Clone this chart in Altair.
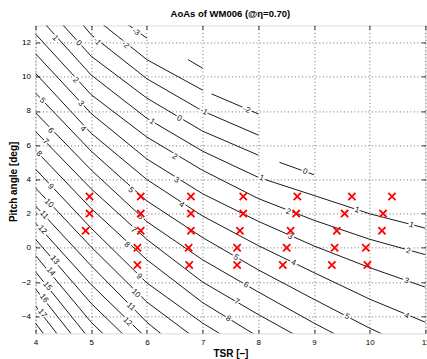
import altair as alt
import pandas as pd

# ---- contour lines: pitch [deg] of each AoA level at the TSR grid nodes ----
TSR_NODES = [4, 5, 6, 7, 8, 9, 10, 11]
LEVELS = [-3, -2, -1, 0, 1, 2, 3, 4, 5, 6, 7, 8, 9, 10, 11, 12, 13, 14, 15, 16, 17, 18]
PITCH_M3 = [None, 14.6, 12.25, None, None, None, None, None]
PITCH_M2 = [None, 13.6, 11.0, 9.22, None, None, None, None]
PITCH_M1 = [16.4, 12.45, 9.88, 8.0, 6.59, None, None, None]
PITCH_0 = [14.8, 11.2, 8.75, 6.82, 5.42, None, None, None]
PITCH_1 = [13.7, 10.1, 7.57, 5.65, 4.12, 3.06, 1.99, 1.15]
PITCH_2 = [12.5, 8.95, 6.47, 4.53, 2.88, 1.61, 0.5, -0.4]
PITCH_3 = [11.35, 7.85, 5.19, 3.16, 1.55, 0.11, -1.16, -2.3]
PITCH_4 = [10.2, 6.7, 3.99, 1.86, 0.13, -1.45, -3.0, -4.35]
PITCH_5 = [9.05, 5.65, 2.74, 0.6, -1.29, -3.01, -4.7, -6.2]
PITCH_6 = [7.9, 4.55, 1.53, -0.7, -2.58, -4.4, -6.1, None]
PITCH_7 = [6.8, 3.45, 0.49, -2.0, -3.9, -5.7, None, None]
PITCH_8 = [5.7, 2.3, -0.7, -3.2, -5.2, None, None, None]
PITCH_9 = [4.6, 1.15, -2.05, -4.4, -6.4, None, None, None]
PITCH_10 = [3.5, 0.05, -3.17, -5.6, None, None, None, None]
PITCH_11 = [2.45, -1.05, -4.35, -7.0, None, None, None, None]
PITCH_12 = [1.45, -2.15, -5.3, None, None, None, None, None]
PITCH_13 = [0.5, -3.25, -6.4, None, None, None, None, None]
PITCH_14 = [-0.45, -4.35, -7.5, None, None, None, None, None]
PITCH_15 = [-1.4, -5.45, None, None, None, None, None, None]
PITCH_16 = [-2.4, -6.5, None, None, None, None, None, None]
PITCH_17 = [-3.4, -7.6, None, None, None, None, None, None]
PITCH_18 = [-4.4, -8.7, None, None, None, None, None, None]
ALL_PITCH = [PITCH_M3, PITCH_M2, PITCH_M1, PITCH_0, PITCH_1, PITCH_2, PITCH_3,
             PITCH_4, PITCH_5, PITCH_6, PITCH_7, PITCH_8, PITCH_9, PITCH_10,
             PITCH_11, PITCH_12, PITCH_13, PITCH_14, PITCH_15, PITCH_16,
             PITCH_17, PITCH_18]

# isolated pieces of contours next to the blank (no data) region
PIECE_LEVEL = [-3, -2, 0]
PIECE_TSR = [[6.74, 7.0], [7.16, 8.0], [8.38, 9.0]]
PIECE_PITCH = [[11.0, 10.5], [9.0, 7.83], [5.0, 4.27]]

# ---- inline contour labels ----
LABEL_TEXT = ["1", "0", "-1", "-2", "-3", "2", "3", "4", "5", "6", "7", "8", "9",
              "10", "11", "12", "13", "14", "15", "16", "17",
              "1", "0", "-1", "-2", "2", "3", "4", "5", "6", "7", "8", "9", "10",
              "11", "12", "1", "0", "2", "3", "4", "5", "6", "7", "8",
              "1", "1", "2", "3", "4", "5"]
LABEL_TSR = [4.35, 4.77, 5.10, 5.61, 5.80, 4.72, 4.81, 4.85, 4.12, 4.27, 4.18,
             4.06, 4.27, 4.24, 4.15, 4.12, 4.34, 4.27, 4.21, 4.15, 4.12,
             6.09, 6.58, 7.02, 7.79, 6.50, 6.53, 6.62, 5.71, 5.88, 5.76, 5.64,
             5.86, 5.80, 5.71, 5.65, 8.06, 8.84, 8.54, 8.57, 8.63, 7.60, 7.78,
             7.61, 7.46, 9.77, 10.75, 10.69, 10.66, 10.66, 9.59]
LABEL_PITCH = [12.24, 11.95, 12.05, 11.85, 12.6, 9.8, 8.42, 6.95, 8.6, 6.84,
               6.2, 5.48, 3.57, 2.6, 1.92, 1.04, -0.72, -1.4, -2.24, -2.96,
               -3.84, 7.37, 7.55, 7.95, 8.05, 5.32, 3.95, 2.5, 3.37, 1.8, 1.03,
               0.16, -1.68, -2.67, -3.45, -4.33, 4.08, 4.44, 2.1, 0.64, -0.88,
               -0.57, -2.18, -3.16, -4.15, 2.2, 1.33, -0.19, -1.95, -3.98, -4.03]
LABEL_ANGLE = [48, 48, 50, 40, 36, 47, 47, 47, 46, 46, 46, 46, 47, 47, 47, 48,
               49, 50, 51, 52, 52, 34, 31, 26, 23, 31, 32, 33, 42, 42, 42, 42,
               44, 44, 44, 44, 20, 19, 21, 24, 26, 30, 30, 30, 31, 17, 15, 15,
               19, 22, 28]

# ---- operating points (red crosses) ----
CROSS_TSR = [4.97, 4.97, 4.90, 5.89, 5.89, 5.89, 5.83, 5.83,
             6.79, 6.79, 6.79, 6.75, 6.76, 7.73, 7.73, 7.67, 7.62, 7.62,
             8.70, 8.68, 8.58, 8.51, 8.44, 9.68, 9.55, 9.41, 9.37, 9.32,
             10.40, 10.24, 10.22, 9.93, 9.96]
CROSS_PITCH = [3, 2, 1, 3, 2, 1, 0, -1,
               3, 2, 1, 0, -1, 3, 2, 1, 0, -1,
               3, 2, 1, 0, -1, 3, 2, 1, 0, -1,
               3, 2, 1, 0, -1]

X_TICKS = [4, 5, 6, 7, 8, 9, 10, 11]
Y_TICKS = [-4, -2, 0, 2, 4, 6, 8, 10, 12]

# ---- build tables ----
rows = []
seg = 0


def add_run(run, lev):
    global seg
    for i, (tt, pp) in enumerate(run):
        rows.append({"seg": seg, "level": lev, "o": i, "tsr": tt, "pitch": pp})
    seg += 1


for lev, arr in zip(LEVELS, ALL_PITCH):
    run = []
    for t, p in zip(TSR_NODES, arr):
        if p is None:
            if len(run) > 1:
                add_run(run, lev)
            run = []
        else:
            run.append((t, p))
    if len(run) > 1:
        add_run(run, lev)
for lev, ts, ps in zip(PIECE_LEVEL, PIECE_TSR, PIECE_PITCH):
    add_run(list(zip(ts, ps)), lev)
lines_df = pd.DataFrame(rows)

labels_df = pd.DataFrame({"txt": LABEL_TEXT, "tsr": LABEL_TSR,
                          "pitch": LABEL_PITCH, "ang": LABEL_ANGLE})
cross_df = pd.DataFrame({"tsr": CROSS_TSR, "pitch": CROSS_PITCH})

FONT = "Liberation Sans"
xs = alt.Scale(domain=[4, 11], nice=False, zero=False)
ys = alt.Scale(domain=[-5, 13], nice=False, zero=False)

common = dict(domain=False, ticks=True, tickSize=4, tickColor="#000", tickWidth=0.8,
              offset=-4, labelFlush=False)
x_main = alt.X("tsr:Q", scale=xs, axis=alt.Axis(
    orient="bottom", values=X_TICKS, title="TSR [–]", grid=True, gridDash=[1, 2.5],
    gridColor="#333", gridWidth=0.7, labelPadding=5, labelFontSize=8,
    labelFont=FONT, labelColor="#000", titleFont=FONT, titleFontSize=10,
    titleFontWeight="bold", titleColor="#000", titleX=195, titleY=27.5,
    titleBaseline="alphabetic", **common))
y_main = alt.Y("pitch:Q", scale=ys, axis=alt.Axis(
    orient="left", values=Y_TICKS, title="Pitch angle [deg]", grid=True,
    gridDash=[1, 2.5], gridColor="#333", gridWidth=0.7, labelPadding=5,
    labelFontSize=8, labelFont=FONT, labelColor="#000", titleFont=FONT,
    titleFontSize=10, titleFontWeight="bold", titleColor="#000", titleX=-23,
    titleY=156, titleBaseline="alphabetic", titleAngle=270, **common))
x_top = alt.X("tsr:Q", scale=xs, axis=alt.Axis(
    orient="top", values=X_TICKS, title=None, labels=False, grid=False, **common))
y_right = alt.Y("pitch:Q", scale=ys, axis=alt.Axis(
    orient="right", values=Y_TICKS, title=None, labels=False, grid=False, **common))
x_none = alt.X("tsr:Q", scale=xs, axis=None)
y_none = alt.Y("pitch:Q", scale=ys, axis=None)

lines = alt.Chart(lines_df).mark_line(color="black", strokeWidth=0.9, clip=True).encode(
    x=x_main, y=y_main, detail="seg:N", order="o:Q")

halo = alt.Chart(labels_df).mark_text(font=FONT, fontSize=8, stroke="white",
                                      strokeWidth=3.5, fill="white",
                                      align="center", baseline="middle").encode(
    x=x_none, y=y_none, text="txt:N", angle=alt.Angle("ang:Q", scale=None))
txt = alt.Chart(labels_df).mark_text(font=FONT, fontSize=8, color="#111",
                                     align="center", baseline="middle").encode(
    x=x_none, y=y_none, text="txt:N", angle=alt.Angle("ang:Q", scale=None))

crosses = alt.Chart(cross_df).mark_point(shape="M-1,-1L1,1M-1,1L1,-1", size=52,
                                         filled=False, color="#ff0000",
                                         strokeWidth=1.8, opacity=1).encode(
    x=x_top, y=y_right)

chart = alt.layer(lines, halo, txt, crosses).resolve_axis(
    x="independent", y="independent"
).properties(
    width=390, height=308,
    title=alt.TitleParams("AoAs of WM006 (@η=0.70)", font=FONT, fontSize=9.5,
                          fontWeight="bold", color="#000", offset=7, anchor="middle"),
    autosize=alt.AutoSizeParams(type="none"),
    padding={"left": 35.5, "top": 25.4, "right": 1.6, "bottom": 25.7},
).configure_view(stroke="black", strokeWidth=1.2).configure(background="white")

chart.save("out.html", embed_options={"renderer": "svg", "actions": False})
